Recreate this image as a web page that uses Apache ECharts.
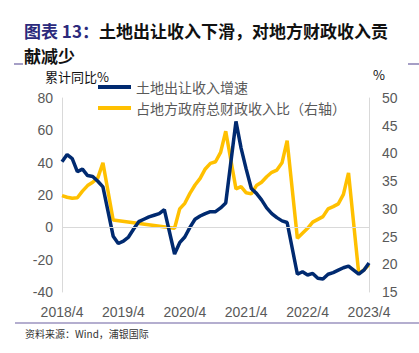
<!DOCTYPE html>
<html>
<head>
<meta charset="utf-8">
<script src="https://cdn.jsdelivr.net/npm/echarts@6/dist/echarts.min.js"></script>
<style>
html,body{margin:0;padding:0;background:#fff;}
#chart{width:419px;height:353px;}
</style>
</head>
<body>
<div id="chart"></div>
<script>
const categories = [
  '2018/4','2018/5','2018/6','2018/7','2018/8','2018/9','2018/10','2018/11','2018/12',
  '2019/1','2019/2','2019/3','2019/4','2019/5','2019/6','2019/7','2019/8','2019/9','2019/10','2019/11','2019/12',
  '2020/1','2020/2','2020/3','2020/4','2020/5','2020/6','2020/7','2020/8','2020/9','2020/10','2020/11','2020/12',
  '2021/1','2021/2','2021/3','2021/4','2021/5','2021/6','2021/7','2021/8','2021/9','2021/10','2021/11','2021/12',
  '2022/1','2022/2','2022/3','2022/4','2022/5','2022/6','2022/7','2022/8','2022/9','2022/10','2022/11','2022/12',
  '2023/1','2023/2','2023/3','2023/4'
];
// 土地出让收入增速 (累计同比 %, left axis)
const landRevenueGrowth = [
  40.5, 45, 42.5, 34.5, 36, 32, 31.5, 28.5, 25,
  null, -5.5, -10, -8.5, -6, -1, 3.5, 5, 6.5, 7.5, 8.5, 11,
  null, -16.5, -9.5, -6, 0, 5, 7, 8.5, 9.7, 9.7, 12, 15,
  null, 65.5, 49, 36, 24, 21, 17, 12, 8.5, 6, 4, 3,
  null, -29, -27.5, -29.5, -28.5, -31.5, -32, -29, -28, -26.5, -25, -24,
  null, -29, -26.5, -22
];
// 占地方政府总财政收入比 (%, right axis)
const landShareOfFiscal = [
  32.4, 32.1, 31.9, 32.0, 33.2, 34.2, 34.8, 35.6, 38.3,
  null, 28.0, null, null, null, null, null, null, null, null, null, null,
  null, 26.5, 30, 31, 32.8, 34.3, 35.5, 37.2, 38.2, 38.5, 40.2, 44.0,
  null, 33.6, 34.0, 32.9, 32.7, 34.2, 34.8, 35.8, 36.6, 37, 38.3, 42.3,
  null, 24.7, 25.6, 26.5, 27.6, 28.1, 28.6, 30, 30.4, 30.9, 32.6, 36.5,
  null, 18.3, 19, 19.9
];
const seriesNames = ['土地出让收入增速', '占地方政府总财政收入比（右轴）'];
const leftAxisRange = [-40, 80, 20];
const rightAxisRange = [15, 50, 5];

const chart = echarts.init(document.getElementById('chart'), null, {renderer: 'svg'});
const cjk = '"Noto Sans CJK SC", "Noto Sans", sans-serif';
const option = {
  backgroundColor: '#fff',
  animation: false,
  title: {
    text: '{a|图表 13：}{b|土地出让收入下滑，对地方财政收入贡}\n{b|献减少}',
    left: 24, top: 18, padding: 0,
    textStyle: {
      rich: {
        a: {fontFamily: cjk, fontSize: 17, fontWeight: 'bold', color: '#2B2A7C', lineHeight: 25},
        b: {fontFamily: cjk, fontSize: 17, fontWeight: 'bold', color: '#111', lineHeight: 25}
      }
    }
  },
  graphic: [
    {type: 'line', shape: {x1: 14, y1: 64, x2: 23, y2: 64}, style: {stroke: '#6A5FA0', lineWidth: 1.2}},
    {type: 'line', shape: {x1: 408, y1: 64, x2: 419, y2: 64}, style: {stroke: '#6A5FA0', lineWidth: 1.2}},
    {type: 'line', shape: {x1: 15, y1: 323, x2: 419, y2: 323}, style: {stroke: '#6A5FA0', lineWidth: 1.2}},
    {type: 'text', left: 25, top: 328, style: {text: '资料来源：Wind，浦银国际', font: '10px ' + cjk, fill: '#333'}},
    {type: 'text', left: 45, top: 70, style: {text: '累计同比%', font: '13px ' + cjk, fill: '#111'}},
    {type: 'text', left: 373, top: 68, style: {text: '%', font: '13px ' + cjk, fill: '#111'}}
  ],
  legend: {
    orient: 'vertical',
    left: 93, top: 75,
    icon: 'rect',
    itemWidth: 33, itemHeight: 4,
    itemGap: 7,
    textStyle: {fontFamily: cjk, fontSize: 14, color: '#595959'},
    data: seriesNames
  },
  grid: {left: 62, right: 50, top: 98, bottom: 61},
  xAxis: {
    type: 'category',
    data: categories,
    boundaryGap: false,
    axisLine: {show: false},
    axisTick: {show: false},
    axisLabel: {interval: 11, color: '#595959', fontSize: 14, margin: 13, fontFamily: '"Liberation Sans", sans-serif'}
  },
  yAxis: [
    {
      type: 'value', min: leftAxisRange[0], max: leftAxisRange[1], interval: leftAxisRange[2],
      axisLine: {show: true, lineStyle: {color: '#D9D9D9'}},
      axisTick: {show: false},
      splitLine: {show: false},
      axisLabel: {color: '#595959', fontSize: 14, margin: 9, fontFamily: '"Liberation Sans", sans-serif'}
    },
    {
      type: 'value', min: rightAxisRange[0], max: rightAxisRange[1], interval: rightAxisRange[2],
      axisLine: {show: true, lineStyle: {color: '#D9D9D9'}},
      axisTick: {show: false},
      splitLine: {show: false},
      axisLabel: {color: '#595959', fontSize: 14, margin: 13, fontFamily: '"Liberation Sans", sans-serif'}
    }
  ],
  series: [
    {
      name: seriesNames[0], type: 'line', yAxisIndex: 0, data: landRevenueGrowth,
      connectNulls: true, symbol: 'none', z: 3,
      lineStyle: {color: '#002A70', width: 3.5},
      itemStyle: {color: '#002A70'},
      markLine: {
        silent: true, symbol: 'none', label: {show: false},
        lineStyle: {color: '#D9D9D9', width: 1, type: 'solid'},
        data: [{yAxis: 0}]
      }
    },
    {
      name: seriesNames[1], type: 'line', yAxisIndex: 1, data: landShareOfFiscal,
      connectNulls: true, symbol: 'none', z: 2,
      lineStyle: {color: '#FFC000', width: 3.5},
      itemStyle: {color: '#FFC000'}
    }
  ]
};
chart.setOption(option);
</script>
</body>
</html>
